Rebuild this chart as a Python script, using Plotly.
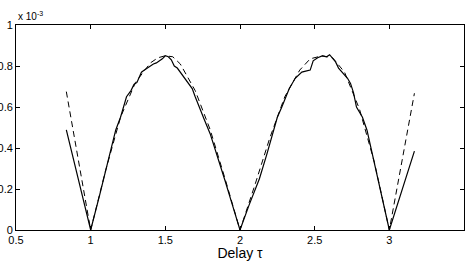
import plotly.graph_objects as go

# Values in units of 1e-3
solid_x = [0.837, 1.0, 1.06, 1.127, 1.168, 1.20, 1.24, 1.27, 1.29, 1.31, 1.34, 1.36, 1.38, 1.40, 1.42, 1.44, 1.46, 1.48, 1.50, 1.52, 1.54, 1.56, 1.58, 1.60, 1.62, 1.65, 1.68, 1.70, 1.73, 1.76, 1.80, 1.85, 1.90, 1.95, 2.0,
           2.06, 2.13, 2.18, 2.224, 2.25, 2.28, 2.30, 2.33, 2.37, 2.40, 2.414, 2.44, 2.47, 2.49, 2.52, 2.55, 2.58, 2.60, 2.625, 2.64, 2.66, 2.69, 2.72, 2.74, 2.76, 2.78, 2.82, 2.85, 2.90, 2.94, 3.0, 3.168]
solid_y = [0.488, 0.0, 0.17, 0.37, 0.488, 0.55, 0.65, 0.68, 0.71, 0.72, 0.77, 0.78, 0.79, 0.80, 0.81, 0.815, 0.825, 0.835, 0.85, 0.845, 0.83, 0.80, 0.79, 0.77, 0.75, 0.72, 0.69, 0.65, 0.59, 0.54, 0.47, 0.36, 0.24, 0.12, 0.0,
           0.12, 0.25, 0.37, 0.488, 0.55, 0.60, 0.64, 0.69, 0.74, 0.76, 0.77, 0.775, 0.78, 0.825, 0.84, 0.849, 0.845, 0.855, 0.83, 0.82, 0.79, 0.765, 0.74, 0.715, 0.67, 0.60, 0.55, 0.488, 0.33, 0.195, 0.0, 0.385]

dash_x = [0.837, 1.0, 1.1, 1.2, 1.3, 1.4, 1.45, 1.5, 1.55, 1.6, 1.7, 1.8, 1.9, 2.0, 2.1, 2.2, 2.3, 2.4, 2.47, 2.55, 2.62, 2.7, 2.8, 2.9, 3.0, 3.168]
dash_y = [0.675, 0.0, 0.29, 0.55, 0.72, 0.815, 0.84, 0.85, 0.845, 0.81, 0.68, 0.49, 0.25, 0.0, 0.22, 0.45, 0.65, 0.78, 0.835, 0.85, 0.84, 0.77, 0.59, 0.33, 0.0, 0.667]

x_ticks = [0.5, 1, 1.5, 2, 2.5, 3, 3.5]
x_tick_labels = ["0.5", "1", "1.5", "2", "2.5", "3", "3.5"]
y_ticks = [0, 0.2, 0.4, 0.6, 0.8, 1.0]
y_tick_labels = ["0", "0.2", "0.4", "0.6", "0.8", "1"]

fig = go.Figure()
fig.add_trace(go.Scatter(x=dash_x, y=dash_y, mode="lines",
                         line=dict(color="black", width=1, dash="6px,4px")))
fig.add_trace(go.Scatter(x=solid_x, y=solid_y, mode="lines",
                         line=dict(color="black", width=1.2)))

font = dict(family="Liberation Sans, Arial, sans-serif", size=11, color="black")
axis_common = dict(showgrid=False, zeroline=False, showline=True, linecolor="black", linewidth=1,
                   mirror="ticks", ticks="inside", ticklen=4, tickcolor="black", tickwidth=1,
                   tickfont=font, automargin=False)

fig.update_layout(
    width=471, height=261,
    margin=dict(l=16, r=7, t=25, b=31),
    paper_bgcolor="white", plot_bgcolor="white",
    showlegend=False,
    font=font,
    xaxis=dict(range=[0.5, 3.5], tickvals=x_ticks, ticktext=x_tick_labels,
               title=dict(text="Delay \u03c4", font=dict(family="Liberation Sans, Arial, sans-serif", size=14, color="black"), standoff=0),
               **axis_common),
    yaxis=dict(range=[0, 1], tickvals=y_ticks, ticktext=y_tick_labels, **axis_common),
    annotations=[dict(text="x 10<sup>-3</sup>", x=0, y=1, xref="paper", yref="paper",
                      xanchor="left", yanchor="bottom", yshift=1, showarrow=False,
                      font=dict(family="Liberation Sans, Arial, sans-serif", size=10, color="black"))],
)

fig.write_html("out.html", config={"displayModeBar": False},
               post_script="document.body.style.margin='0';")
